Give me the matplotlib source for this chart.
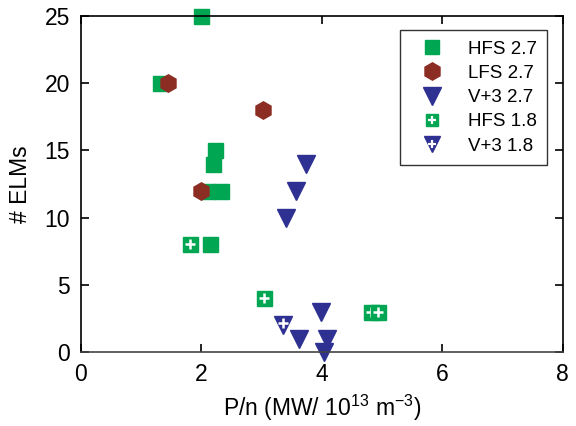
import matplotlib.pyplot as plt
from matplotlib.legend_handler import HandlerTuple
from matplotlib.lines import Line2D
from matplotlib.transforms import offset_copy

plt.rcParams['font.family'] = ['Liberation Sans', 'DejaVu Sans']
plt.rcParams['mathtext.default'] = 'regular'

# data
hfs27_x = [1.99, 1.31, 2.22, 2.19, 2.09, 2.33, 2.14]
hfs27_y = [25, 20, 15, 14, 12, 12, 8]
lfs27_x = [1.44, 3.02, 1.99]
lfs27_y = [20, 18, 12]
v27_x = [3.74, 3.57, 3.40, 3.98, 3.62, 4.08, 4.04]
v27_y = [14, 12, 10, 3, 1, 1, 0]
hfs18_x = [1.81, 3.04, 4.82, 4.94]
hfs18_y = [8, 4, 3, 3]
v18_x = [3.36]
v18_y = [2]

green = '#00a651'
brown = '#8c2d24'
blue = '#2e3192'

fig = plt.figure(figsize=(5.76, 4.26), dpi=100)
ax = fig.add_axes([0.1406, 0.1737, 0.8364, 0.7887])

kw = dict(linestyle='none', clip_on=False)
ax.plot(hfs27_x, hfs27_y, marker='s', ms=10.8, color=green, mec=green, **kw)
# each square then its cross, so an overlapping square hides the cross below
for x, y in zip(hfs18_x, hfs18_y):
    ax.plot([x], [y], marker='s', ms=10.8, color=green, mec=green, **kw)
    ax.plot([x], [y], marker='+', ms=7, mew=1.8, color='white', **kw)
ax.plot(lfs27_x, lfs27_y, marker='h', ms=12.5, color=brown, mec=brown, **kw)
ax.plot(v27_x, v27_y, marker='v', ms=13.5, color=blue, mec=blue, **kw)
ax.plot(v18_x, v18_y, marker='v', ms=12.5, color=blue, mec=blue, **kw)
# cross sits a bit above the triangle's box centre
up = offset_copy(ax.transData, fig=fig, x=0, y=2.5, units='dots')
ax.plot(v18_x, v18_y, marker='+', ms=7, mew=1.8, color='white',
        transform=up, **kw)

ax.set_xlim(0, 8)
ax.set_ylim(0, 25)
ax.set_xticks([0, 2, 4, 6, 8])
ax.set_yticks([0, 5, 10, 15, 20, 25])
ax.tick_params(direction='in', length=6, width=1.2, top=True, right=True,
               labelsize=16.5, pad=8, colors='black')
for s in ax.spines.values():
    s.set_linewidth(1.2)
ax.spines['bottom'].set_color('#444444')

ax.set_xlabel('P/n (MW/ 10$^{13}$ m$^{-3}$)', fontsize=16.5, labelpad=5)
ax.set_ylabel('# ELMs', fontsize=16.5, labelpad=9)

h_sq = Line2D([], [], ls='none', marker='s', ms=10.5, color=green)
h_hex = Line2D([], [], ls='none', marker='h', ms=12.5, color=brown)
h_v = Line2D([], [], ls='none', marker='v', ms=13, color=blue)
h_plus = Line2D([], [], ls='none', marker='+', ms=6, mew=1.6, color='white')
h_sq_small = Line2D([], [], ls='none', marker='s', ms=9, color=green)
h_v_small = Line2D([], [], ls='none', marker='v', ms=11, color=blue)
leg = ax.legend([h_sq, h_hex, h_v, (h_sq_small, h_plus), (h_v_small, h_plus)],
                ['HFS 2.7', 'LFS 2.7', 'V+3 2.7', 'HFS 1.8', 'V+3 1.8'],
                handler_map={tuple: HandlerTuple(ndivide=1, pad=0)},
                loc='upper right', bbox_to_anchor=(0.967, 0.958),
                fontsize=13.5, frameon=True, fancybox=False, edgecolor='black',
                handlelength=2.3, handletextpad=0.75, labelspacing=0.38,
                borderpad=0.55, borderaxespad=0)
leg.get_frame().set_linewidth(1.0)

fig.savefig('out.png', dpi=100)
